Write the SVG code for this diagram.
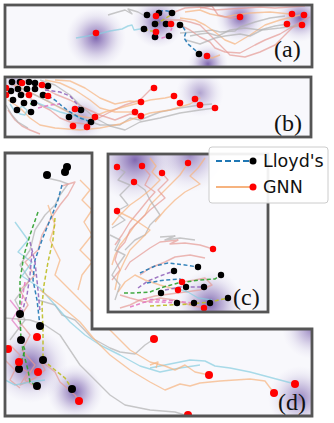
<svg xmlns="http://www.w3.org/2000/svg" width="334" height="423" viewBox="0 0 334 423">
<defs>
<radialGradient id="blob">
<stop offset="0" stop-color="#6b4fa3" stop-opacity="0.85"/>
<stop offset="0.4" stop-color="#8a73b8" stop-opacity="0.5"/>
<stop offset="0.75" stop-color="#b0a3d0" stop-opacity="0.18"/>
<stop offset="1" stop-color="#c8c0e0" stop-opacity="0"/>
</radialGradient>
<clipPath id="ca"><rect x="5" y="5" width="307" height="62"/></clipPath>
<clipPath id="cb"><rect x="5" y="77" width="306" height="60"/></clipPath>
<clipPath id="cc"><rect x="108" y="154" width="160" height="158"/></clipPath>
<clipPath id="cd"><path d="M5,153 H92 V329 H312 V416 H5 Z"/></clipPath>
</defs>
<style>
.bg{fill:#f8f8fc}
.fr{fill:none;stroke:#555;stroke-width:2.8}
.s{fill:none;stroke-width:1.4;stroke-linejoin:round;opacity:0.7}
.sa{stroke:#e59a94}
.or{stroke:#f6b37f}
.gr{stroke:#b0b0b0}
.cy{stroke:#86cde0}
.d{fill:none;stroke-width:1.5;stroke-dasharray:4,2.5;opacity:0.9}
.bl{stroke:#1f77b4}
.gn{stroke:#2ca02c}
.pu{stroke:#9467bd}
.ye{stroke:#bcbd22}
.pk{stroke:#e377c2}
.cn{stroke:#17becf}
.r{fill:#ff0000}
.k{fill:#000}
.lab{font-family:"Liberation Serif","DejaVu Serif",serif;font-size:24px;fill:#111}
.leg{font-family:"DejaVu Sans","Liberation Sans",sans-serif;font-size:17.5px;fill:#111}
</style>
<rect width="334" height="423" fill="#fff"/>

<g id="panel-a">
<rect class="bg" x="5" y="5" width="307" height="62"/>
<g clip-path="url(#ca)">
<circle cx="96" cy="38" r="30" fill="url(#blob)"/>
<circle cx="158" cy="22" r="26" fill="url(#blob)"/>
<circle cx="240" cy="18" r="24" fill="url(#blob)"/>
<circle cx="300" cy="18" r="24" fill="url(#blob)"/>
<circle cx="208" cy="64" r="20" fill="url(#blob)"/>
<path class="s cy" d="M76,38 L88,36 L98,34 L110,31 L122,29 L128,26 L132,25 L134,30 L140,29 L146,28"/>
<path class="s gr" d="M108,15 L118,12 L125,10 L132,14 L128,9 L138,12 L145,16"/>
<path class="s gr" d="M180,33 L195,32 L205,31 L212,30 L220,32 L235,31 L240,27 L255,22 L270,18 L285,16"/>
<path class="s sa" d="M165,20 L180,20 L190,22 L200,25 L210,35 L220,45 L230,55 L245,57 L260,52 L275,45 L285,35 L295,25 L310,17"/>
<path class="s sa" d="M172,13 L185,8 L200,7 L215,10 L230,9 L245,8 L260,7 L275,8 L290,7 L305,6"/>
<path class="s sa" d="M178,24 L190,30 L200,37 L210,42 L215,48 L225,52 L240,53 L255,45 L265,40 L280,34 L290,28 L300,25"/>
<path class="s or" d="M180,18 L195,20 L205,25 L215,32 L225,40 L235,44 L250,35 L265,25 L280,20 L300,15"/>
<path class="s or" d="M185,12 L200,10 L210,14 L225,17 L235,15 L250,13 L270,12 L290,14"/>
<path class="s gr" d="M190,36 L200,34 L208,33 L218,36 L230,30 L245,28 L260,30 L275,26 L288,24"/>
<path class="s sa" d="M200,8 L212,6 L218,15 L230,18 L240,17"/>
<path class="s gr" d="M186,40 L200,44 L215,38 L225,36 L240,34 L250,36 L262,30 L280,28 L302,25"/>
<path class="s or" d="M205,56 L212,58 L220,55"/>
<path class="d bl" d="M159,12 Q166,9 172,13"/>
<path class="d ye" d="M155,24 L163,20 L172,14"/>
<path class="d pk" d="M155,37 L162,38 L168,36 L172,28"/>
<path class="d bl" d="M183,27 L186,32 L184,38 L188,44 L195,50 L199,54"/>
<path class="d ye" d="M144,29 L150,31 L155,31"/>
<circle class="k" cx="147" cy="15" r="3.3"/><circle class="k" cx="159" cy="13" r="3.3"/><circle class="k" cx="172" cy="13" r="3.3"/>
<circle class="k" cx="144" cy="29" r="3.3"/><circle class="k" cx="155" cy="24" r="3.3"/><circle class="k" cx="166" cy="24" r="3.3"/>
<circle class="k" cx="180" cy="25" r="3.3"/><circle class="k" cx="155" cy="37" r="3.3"/><circle class="k" cx="169" cy="36" r="3.3"/>
<circle class="k" cx="199" cy="54" r="3.3"/>
<circle class="r" cx="96" cy="33" r="3.3"/><circle class="r" cx="156" cy="16" r="3.3"/><circle class="r" cx="171" cy="24" r="3.3"/>
<circle class="r" cx="156" cy="32" r="3.3"/><circle class="r" cx="240" cy="17" r="3.3"/><circle class="r" cx="292" cy="14" r="3.3"/>
<circle class="r" cx="304" cy="15" r="3.3"/><circle class="r" cx="287" cy="24" r="3.3"/><circle class="r" cx="302" cy="25" r="3.3"/>
<circle class="r" cx="207" cy="56" r="3.3"/>
</g>
<rect class="fr" x="5" y="5" width="307" height="62"/>
<text class="lab" x="274" y="57">(a)</text>
</g>

<g id="panel-b">
<rect class="bg" x="5" y="77" width="306" height="60"/>
<g clip-path="url(#cb)">
<circle cx="200" cy="93" r="24" fill="url(#blob)" opacity="0.6"/>
<circle cx="82" cy="118" r="24" fill="url(#blob)" opacity="0.6"/>
<circle cx="15" cy="82" r="14" fill="url(#blob)" opacity="0.5"/>
<path class="s sa" d="M10,82 L20,90 L30,98 L40,105 L50,110 L60,118 L70,122 L85,124 L95,120 L110,112 L125,105 L140,100 L150,90 L154,88"/>
<path class="s or" d="M15,85 L30,92 L45,100 L60,108 L75,115 L90,118 L105,112 L120,108 L135,104 L150,100 L165,98 L174,96"/>
<path class="s gr" d="M20,88 L35,95 L50,102 L65,110 L80,118 L100,125 L120,125 L130,118 L140,120 L160,112 L180,108 L200,105 L212,104"/>
<path class="s or" d="M8,100 L20,108 L30,118 L40,125 L55,128 L80,130 L100,128 L120,124 L135,118 L150,113 L170,110 L190,104 L200,98 L195,99"/>
<path class="s sa" d="M25,80 L40,86 L55,94 L70,100 L85,108 L100,115 L115,120 L130,114 L141,116"/>
<path class="s gr" d="M40,80 L55,85 L70,95 L80,105 L95,118 L110,126 L125,130 L140,122 L160,118 L180,113 L200,110 L215,108"/>
<path class="s or" d="M45,80 L60,83 L75,90 L90,100 L100,108 L115,112 L135,112"/>
<path class="s or" d="M55,80 L70,81 L85,88 L100,98 L115,104 L130,101 L141,102"/>
<path class="s sa" d="M8,110 L15,120 L22,126 L30,130 L40,134"/>
<path class="s gr" d="M6,105 L12,115 L18,122 L28,128"/>
<path class="s cy" d="M18,110 L22,106 L27,110 L25,115 L20,114 L14,110 L10,104"/>
<path class="s cy" d="M30,100 L45,106 L60,112 L75,116 L91,122"/>
<path class="d pu" d="M45,90 L60,92 L70,96 L78,105 L81,110"/>
<path class="d bl" d="M48,96 L55,100 L62,106 L70,112 L80,118 L91,122"/>
<path class="d gn" d="M30,104 L36,103"/>
<path class="d pk" d="M38,108 L50,105 L60,104"/>
<circle class="k" cx="12" cy="82" r="3.3"/><circle class="k" cx="20" cy="82" r="3.3"/><circle class="k" cx="29" cy="82" r="3.3"/>
<circle class="k" cx="35" cy="83" r="3.3"/><circle class="k" cx="48" cy="86" r="3.3"/><circle class="k" cx="11" cy="91" r="3.3"/>
<circle class="k" cx="18" cy="89" r="3.3"/><circle class="k" cx="27" cy="89" r="3.3"/><circle class="k" cx="35" cy="89" r="3.3"/>
<circle class="k" cx="43" cy="95" r="3.3"/><circle class="k" cx="21" cy="95" r="3.3"/><circle class="k" cx="13" cy="100" r="3.3"/>
<circle class="k" cx="24" cy="103" r="3.3"/><circle class="k" cx="34" cy="103" r="3.3"/><circle class="k" cx="17" cy="110" r="3.3"/>
<circle class="k" cx="31" cy="112" r="3.3"/><circle class="k" cx="81" cy="110" r="3.3"/><circle class="k" cx="69" cy="117" r="3.3"/>
<circle class="k" cx="91" cy="122" r="3.3"/>
<circle class="r" cx="22" cy="83" r="3.3"/><circle class="r" cx="42" cy="85" r="3.3"/><circle class="r" cx="6" cy="88" r="3.3"/>
<circle class="r" cx="6" cy="95" r="3.3"/><circle class="r" cx="29" cy="95" r="3.3"/><circle class="r" cx="48" cy="96" r="3.3"/>
<circle class="r" cx="75" cy="109" r="3.3"/><circle class="r" cx="95" cy="117" r="3.3"/><circle class="r" cx="73" cy="126" r="3.3"/>
<circle class="r" cx="87" cy="127" r="3.3"/><circle class="r" cx="154" cy="88" r="3.3"/><circle class="r" cx="141" cy="102" r="3.3"/>
<circle class="r" cx="174" cy="96" r="3.3"/><circle class="r" cx="180" cy="103" r="3.3"/><circle class="r" cx="195" cy="99" r="3.3"/>
<circle class="r" cx="200" cy="105" r="3.3"/><circle class="r" cx="215" cy="108" r="3.3"/><circle class="r" cx="135" cy="112" r="3.3"/>
<circle class="r" cx="141" cy="116" r="3.3"/>
</g>
<rect class="fr" x="5" y="77" width="306" height="60"/>
<text class="lab" x="274" y="131">(b)</text>
</g>

<g id="panel-d">
<path class="bg" d="M5,153 H92 V329 H312 V416 H5 Z"/>
<g clip-path="url(#cd)">
<circle cx="30" cy="365" r="38" fill="url(#blob)"/>
<circle cx="75" cy="392" r="28" fill="url(#blob)"/>
<circle cx="312" cy="329" r="30" fill="url(#blob)" opacity="0.8"/>
<circle cx="300" cy="398" r="32" fill="url(#blob)" opacity="0.8"/>
<path class="s gr" d="M47,178 L60,181 L68,184 L60,195 L55,205 L45,215 L35,230 L30,250 L20,265 L30,280 L15,300 L25,320 L10,340"/>
<path class="s sa" d="M62,186 L75,182 L68,195 L60,205 L50,220 L42,235 L38,250 L25,262 L35,275 L20,290 L28,305 L18,320 L30,335 L22,350 L35,365 L25,380 L40,390"/>
<path class="s or" d="M80,180 L90,190 L82,200 L92,210 L84,222 L92,235 L80,250 L92,262 L82,275 L78,290"/>
<path class="s gr" d="M38,300 L55,305 L62,315 L75,320 L92,338 L110,348 L120,352 L135,354 L145,345 L154,339"/>
<path class="s cy" d="M15,222 L28,240 L18,252 L32,262 L22,276 L40,288 L55,305 L70,322 L85,335 L100,345 L120,355 L140,366 L160,372 L180,368 L200,365"/>
<path class="s cy" d="M150,368 L170,364 L190,360 L205,361 L215,366 L230,368 L250,372 L265,376 L280,380 L295,384"/>
<path class="s or" d="M48,205 L55,225 L50,240 L60,260 L55,275 L70,290 L90,310 L110,330 L130,350 L150,362 L165,366 L175,370 L185,365 L195,372 L209,375"/>
<path class="s or" d="M40,290 L60,305 L80,322 L95,340 L110,355 L130,370 L150,382 L165,390 L180,384 L190,386 L200,383 L220,381 L250,379 L265,381 L274,393"/>
<path class="s or" d="M150,365 L158,362 L156,368"/>
<path class="s gr" d="M5,318 L30,320 L45,325 L60,335 L70,350 L80,365 L95,380 L110,395 L125,405 L150,410 L175,412 L188,416"/>
<path class="s sa" d="M10,345 L20,355 L15,365 L28,372 L20,385 L35,378 L45,370 L40,360 L55,372 L60,382 L75,395 L79,401"/>
<path class="s sa" d="M5,360 L15,370 L10,380 L20,388"/>
<path class="s cy" d="M5,380 L15,385 L30,382 L45,380"/>
<path class="s pk" d="M10,300 L18,310 L12,320 L20,330"/>
<path class="d bl" d="M62,185 L58,200 L50,220 L42,240 L35,260 L33,280 L37,300 L40,326"/>
<path class="d gn" d="M38,212 L30,235 L24,255 L20,280 L20,300 L20,314"/>
<path class="d gn" d="M21,340 L24,355 L28,370 L30,382 L37,386"/>
<path class="d ye" d="M55,218 L53,240 L48,262 L44,285 L42,305 L43,330 L43,350 L43,360 L55,370 L65,378 L72,389"/>
<path class="d pu" d="M32,252 L30,275 L27,295 L22,312"/>
<path class="d pk" d="M25,282 L22,300 L19,322"/>
<path class="d pu" d="M30,242 L35,262 L38,290 L40,312"/>
<path class="d gn" d="M20,314 L21,340 L25,350 L19,369"/>
<circle class="k" cx="47" cy="175" r="4"/><circle class="k" cx="65" cy="172" r="4"/><circle class="k" cx="67" cy="167" r="4"/>
<circle class="k" cx="20" cy="314" r="4"/><circle class="k" cx="40" cy="326" r="4"/><circle class="k" cx="21" cy="340" r="4"/>
<circle class="k" cx="43" cy="360" r="4"/><circle class="k" cx="19" cy="369" r="4"/><circle class="k" cx="37" cy="386" r="4"/>
<circle class="k" cx="72" cy="389" r="4"/>
<circle class="r" cx="37" cy="337" r="4"/><circle class="r" cx="8" cy="349" r="4"/><circle class="r" cx="19" cy="362" r="4"/>
<circle class="r" cx="38" cy="372" r="4"/><circle class="r" cx="79" cy="401" r="4"/><circle class="r" cx="154" cy="339" r="4"/>
<circle class="r" cx="209" cy="375" r="4"/><circle class="r" cx="295" cy="384" r="4"/><circle class="r" cx="274" cy="393" r="4"/>
<circle class="r" cx="188" cy="415" r="4"/>
</g>
<path class="fr" d="M5,153 H92 V329 H312 V416 H5 Z"/>
<text class="lab" x="278" y="410">(d)</text>
</g>

<g id="panel-c">
<rect x="108" y="154" width="160" height="158" fill="#fff"/>
<rect class="bg" x="108" y="154" width="160" height="158"/>
<g clip-path="url(#cc)">
<circle cx="135" cy="160" r="42" fill="url(#blob)"/>
<circle cx="190" cy="156" r="36" fill="url(#blob)" opacity="0.75"/>
<circle cx="210" cy="304" r="34" fill="url(#blob)"/>
<path class="s or" d="M188,163 L180,175 L170,185 L160,195 L150,205 L145,215 L135,225 L128,235 L120,245 L115,255 L112,265"/>
<path class="s sa" d="M162,173 L168,180 L158,190 L165,198 L150,210 L140,220 L130,230 L125,242 L118,250 L115,260 L120,270 L112,280"/>
<path class="s gr" d="M117,167 L125,172 L118,180 L130,185 L120,195 L128,205 L115,212 L125,220 L112,228"/>
<path class="s gr" d="M134,182 L145,190 L150,200 L160,215 L150,225 L145,235 L135,240 L125,250"/>
<path class="s sa" d="M142,166 L150,175 L145,185 L155,192 L148,200 L140,210 L130,222 L122,235 L115,245"/>
<path class="s or" d="M117,211 L125,215 L135,220 L150,230 L140,240 L130,250 L125,260 L118,275 L115,290"/>
<path class="s or" d="M150,158 L156,166 L152,172 L160,180 L150,190 L140,198 L130,205 L120,215 L112,225"/>
<path class="s or" d="M205,158 L198,168 L190,176 L200,184 L185,192 L175,200 L165,210 L155,222"/>
<path class="s sa" d="M213,249 L200,245 L185,243 L170,244 L178,240 L160,242 L150,248 L140,255 L130,262 L125,270"/>
<path class="s sa" d="M205,258 L190,255 L175,257 L165,262 L150,268 L140,275"/>
<path class="s sa" d="M182,282 L195,280 L205,278 L212,285 L200,290 L185,292 L170,294 L155,296 L140,300 L130,305 L120,308"/>
<path class="s gr" d="M195,240 L180,238 L165,240 L175,236 L160,237"/>
<path class="s or" d="M178,290 L160,285 L145,280 L135,275 L125,282 L118,292"/>
<path class="s sa" d="M204,308 L190,305 L175,300 L160,298 L145,302 L130,298 L120,295"/>
<path class="s gr" d="M110,235 L120,240 L115,250 L125,255 L118,265 L112,275 L120,285 L115,300"/>
<path class="s cy" d="M175,288 L188,292 L198,298 L212,300"/>
<path class="d bl" d="M140,273 L155,266 L168,263 L185,265 L198,267"/>
<path class="d bl" d="M147,283 L165,280 L180,279 L186,287"/>
<path class="d pu" d="M138,288 L148,281 L160,276 L174,271"/>
<path class="d gn" d="M124,293 L135,293 L150,292 L160,288 L178,283 L200,280 L215,279 L221,275"/>
<path class="d pk" d="M130,307 L145,302 L160,302 L178,303"/>
<path class="d ye" d="M150,306 L170,305 L190,304 L210,302 L228,298"/>
<path class="d pk" d="M143,299 L160,300 L175,301 L193,303"/>
<path class="d pu" d="M165,290 L180,287 L204,287"/>
<circle class="k" cx="198" cy="267" r="3.2"/><circle class="k" cx="174" cy="271" r="3.2"/><circle class="k" cx="221" cy="275" r="3.2"/>
<circle class="k" cx="186" cy="287" r="3.2"/><circle class="k" cx="204" cy="287" r="3.2"/><circle class="k" cx="161" cy="293" r="3.2"/>
<circle class="k" cx="177" cy="303" r="3.2"/><circle class="k" cx="194" cy="303" r="3.2"/><circle class="k" cx="210" cy="303" r="3.2"/>
<circle class="k" cx="228" cy="298" r="3.2"/>
<circle class="r" cx="117" cy="167" r="3.2"/><circle class="r" cx="142" cy="166" r="3.2"/><circle class="r" cx="162" cy="173" r="3.2"/>
<circle class="r" cx="188" cy="163" r="3.2"/><circle class="r" cx="134" cy="182" r="3.2"/><circle class="r" cx="117" cy="211" r="3.2"/>
<circle class="r" cx="213" cy="249" r="3.2"/><circle class="r" cx="182" cy="282" r="3.2"/><circle class="r" cx="178" cy="290" r="3.2"/>
<circle class="r" cx="204" cy="308" r="3.2"/>
</g>
<rect class="fr" x="108" y="154" width="160" height="158"/>
<text class="lab" x="233" y="305">(c)</text>
</g>

<g id="legend">
<rect x="209" y="147" width="119" height="56" rx="3" fill="#fff" fill-opacity="0.92" stroke="#ccc" stroke-width="1"/>
<line x1="216" y1="161" x2="252" y2="161" stroke="#1f77b4" stroke-width="2" stroke-dasharray="6,3"/>
<circle class="k" cx="253" cy="161" r="3.5"/>
<text class="leg" x="263" y="167">Lloyd's</text>
<line x1="216" y1="187" x2="252" y2="187" stroke="#f6b37f" stroke-width="2"/>
<circle class="r" cx="253" cy="187" r="3.5"/>
<text class="leg" x="263" y="193">GNN</text>
</g>
</svg>
